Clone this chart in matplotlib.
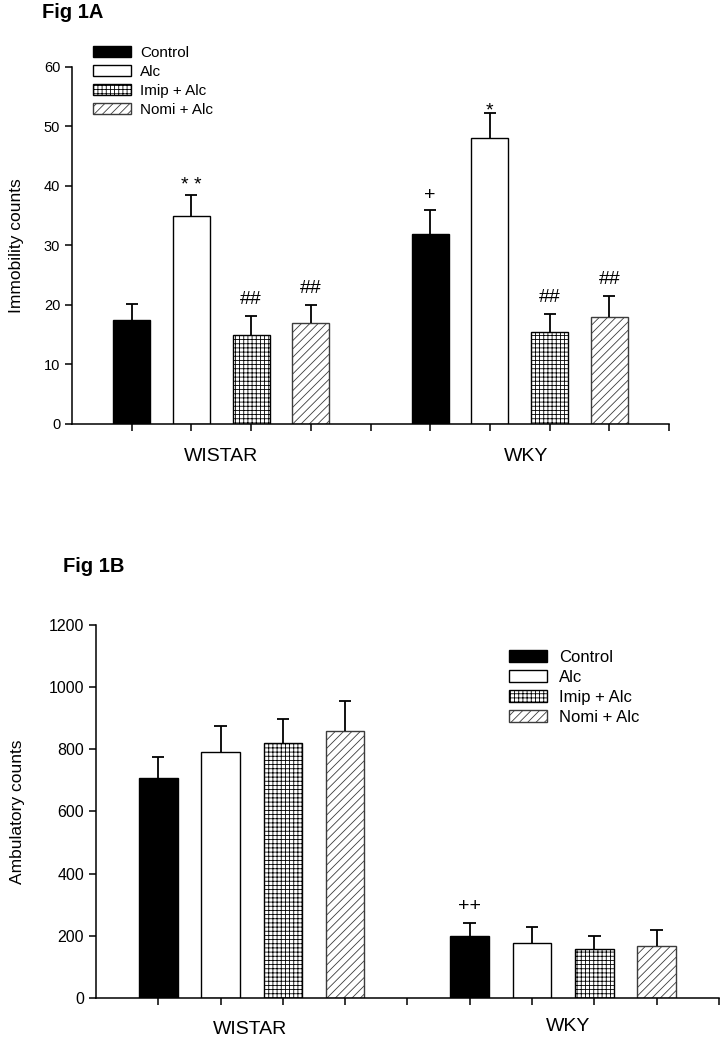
import numpy as np
import matplotlib
matplotlib.use('Agg')
import matplotlib.pyplot as plt
from matplotlib.patches import Patch
from matplotlib.transforms import blended_transform_factory

plt.rcParams['font.family'] = ['Liberation Sans', 'DejaVu Sans']
plt.rcParams['hatch.linewidth'] = 0.6

# data #
groups = ['WISTAR', 'WKY']
treatments = ['Control', 'Alc', 'Imip + Alc', 'Nomi + Alc']

immob_mean = [[17.5, 35.0, 15.0, 17.0], [32.0, 48.0, 15.5, 18.0]]
immob_err = [[2.7, 3.5, 3.2, 3.0], [4.0, 4.2, 3.0, 3.5]]
immob_marks = [['', '* *', '##', '##'], ['+', '*', '##', '##']]

amb_mean = [[708, 790, 820, 858], [199, 178, 157, 168]]
amb_err = [[67, 85, 79, 97], [41, 51, 42, 50]]
amb_marks = [['', '', '', ''], ['++', '', '', '']]

# bar styles
faces = ['black', 'white', 'white', 'white']
edges = ['black', 'black', 'black', '#3c3c3c']
hatches = [None, None, '++++', '////']
# how far (points) above the cap each mark sits
mark_off = {'##': 12, '* *': 7, '*': 2, '+': 10, '++': 12}


def draw_panel(ax, means, errs, marks, ymax, ystep, ylabel, tick_size):
	for g in range(len(groups)):
		xs = [1 + 5 * g + i for i in range(len(treatments))]
		for i, x in enumerate(xs):
			ax.bar(x, means[g][i], width=0.62, color=faces[i], edgecolor=edges[i],
				hatch=hatches[i], linewidth=1.0, zorder=2)
			top = means[g][i] + errs[g][i]
			# only the upper half of the error bar
			ax.vlines(x, means[g][i], top, color='black', linewidth=1.3, zorder=3)
			ax.hlines(top, x - 0.1, x + 0.1, color='black', linewidth=1.3, zorder=3)
			if marks[g][i]:
				ax.annotate(marks[g][i], (x, top), xytext=(0, mark_off[marks[g][i]]),
					textcoords='offset points', ha='center', va='center', fontsize=14)
	ax.set_xlim(0, 10)
	ax.set_ylim(0, ymax)
	ax.set_xticks(np.arange(1, 11))
	ax.set_xticklabels([])
	ax.set_yticks(np.arange(0, ymax + 1, ystep))
	ax.spines['top'].set_visible(False)
	ax.spines['right'].set_visible(False)
	for s in ['left', 'bottom']:
		ax.spines[s].set_linewidth(1.1)
	ax.tick_params(direction='out', length=5, width=1.1, labelsize=tick_size)
	ax.set_ylabel(ylabel, fontsize=12.5)
	return blended_transform_factory(ax.transData, ax.transAxes)


def legend_handles():
	return [Patch(facecolor=faces[i], edgecolor=edges[i], hatch=hatches[i], linewidth=1.0)
		for i in range(len(treatments))]


fig = plt.figure(figsize=(7.26, 10.5), dpi=100)

# Fig 1A
ax1 = fig.add_axes([0.0992, 0.5962, 0.8223, 0.34])
tr = draw_panel(ax1, immob_mean, immob_err, immob_marks, 60, 10, 'Immobility counts', 10.5)
ax1.text(2.5, -0.09, groups[0], transform=tr, ha='center', va='center', fontsize=14)
ax1.text(7.6, -0.09, groups[1], transform=tr, ha='center', va='center', fontsize=14)
ax1.yaxis.set_label_coords(-0.08, 0.5)
fig.legend(legend_handles(), treatments, loc='upper left', bbox_to_anchor=(93 / 726, 1 - 46 / 1050),
	frameon=False, fontsize=11, handlelength=2.5, handleheight=0.7, labelspacing=0.33,
	handletextpad=0.6, borderpad=0, borderaxespad=0)
fig.text(42 / 726, 1 - 13 / 1050, 'Fig 1A', fontsize=14.5, fontweight='bold', va='center')

# Fig 1B
ax2 = fig.add_axes([0.1322, 0.0495, 0.858, 0.3553])
tr = draw_panel(ax2, amb_mean, amb_err, amb_marks, 1200, 200, 'Ambulatory counts', 11.5)
ax2.text(2.47, -0.085, groups[0], transform=tr, ha='center', va='center', fontsize=14)
ax2.text(7.58, -0.075, groups[1], transform=tr, ha='center', va='center', fontsize=14)
ax2.yaxis.set_label_coords(-0.114, 0.5)
fig.legend(legend_handles(), treatments, loc='upper left', bbox_to_anchor=(509 / 726, 1 - 650 / 1050),
	frameon=False, fontsize=12, handlelength=2.3, handleheight=0.7, labelspacing=0.3,
	handletextpad=0.7, borderpad=0, borderaxespad=0)
fig.text(63 / 726, 1 - 567 / 1050, 'Fig 1B', fontsize=14.5, fontweight='bold', va='center')

fig.savefig('out.png', dpi=100)
